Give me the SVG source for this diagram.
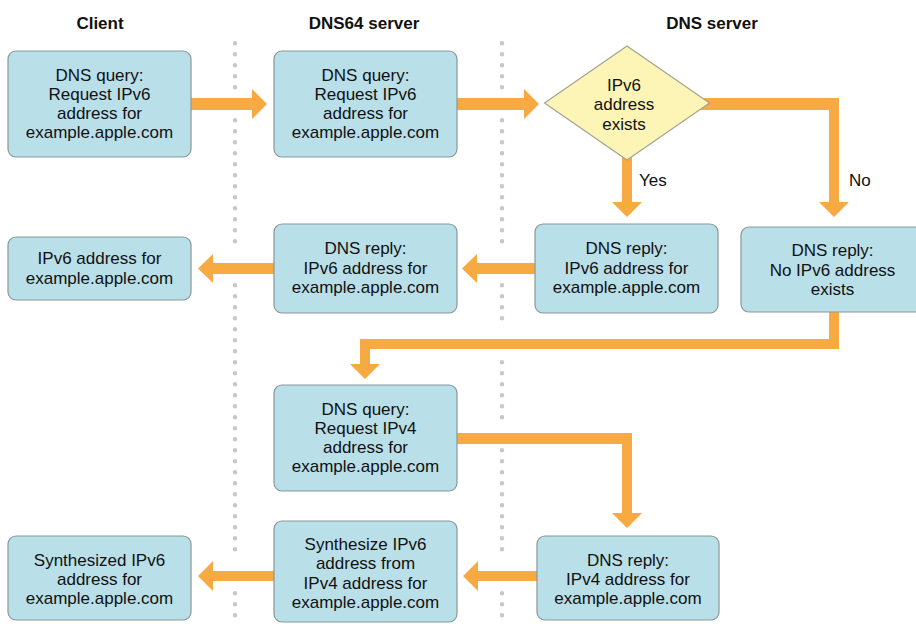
<svg xmlns="http://www.w3.org/2000/svg" width="916" height="624" viewBox="0 0 916 624">
<style>
.box{fill:#b9dfe9;stroke:#8a979b;stroke-width:1.2}
.dia{fill:#fcf5b6;stroke:#a3a391;stroke-width:1.2}
.arr{fill:#f8aa42;stroke:none}
.dots{stroke:#c8c8c8;stroke-width:4.5;stroke-linecap:round;stroke-dasharray:0 11;fill:none}
text{font-family:"Liberation Sans",Arial,Helvetica,sans-serif;font-size:17px;fill:#111;text-anchor:middle}
.hdr{font-weight:bold}
.lbl{text-anchor:start}
</style>
<rect width="916" height="624" fill="#ffffff"/>
<g id="lanes">
<path class="dots" d="M235 43.3V87.3M235 120.3V252.3M235 285.3V560.3M235 593.3V626.3"/>
<path class="dots" d="M502 43.3V87.3M502 120.3V252.3M502 285.3V329.3M502 362.3V428.3M502 450.3V560.3M502 593.3V626.3"/>
</g>
<g id="headers">
<text class="hdr" x="100" y="29">Client</text>
<text class="hdr" x="364" y="29">DNS64 server</text>
<text class="hdr" x="712" y="29">DNS server</text>
</g>
<g id="connectors">
<polygon class="arr" points="191,98 252,98 252,89 267,104 252,119 252,110 191,110"/>
<polygon class="arr" points="457,98 524,98 524,89 539,104 524,119 524,110 457,110"/>
<polygon class="arr" points="700,98 839,98 839,202 849,202 834,217 819,202 829,202 829,110 700,110"/>
<polygon class="arr" points="622,150 632,150 632,202 642,202 627,217 612,202 622,202"/>
<polygon class="arr" points="535,263 477,263 477,254 462,268.5 477,283 477,274 535,274"/>
<polygon class="arr" points="274,263 213,263 213,254 198,268.5 213,283 213,274 274,274"/>
<polygon class="arr" points="829,311 839,311 839,349 370,349 370,364 380,364 365,379 350,364 360,364 360,339 829,339"/>
<polygon class="arr" points="457,433 632,433 632,513 642,513 627,528 612,513 622,513 622,444 457,444"/>
<polygon class="arr" points="537,571 478,571 478,561 463,576 478,591 478,581 537,581"/>
<polygon class="arr" points="274,571 213,571 213,561 198,576 213,591 213,581 274,581"/>
<text class="lbl" x="639" y="186">Yes</text>
<text class="lbl" x="849" y="186">No</text>
</g>
<g id="n1">
<rect class="box" x="8" y="51" width="183" height="106" rx="8"/>
<text x="99.5" y="81">DNS query:</text>
<text x="99.5" y="100">Request IPv6</text>
<text x="99.5" y="119">address for</text>
<text x="99.5" y="138">example.apple.com</text>
</g>
<g id="n2">
<rect class="box" x="274" y="51" width="183" height="106" rx="8"/>
<text x="365.5" y="81">DNS query:</text>
<text x="365.5" y="100">Request IPv6</text>
<text x="365.5" y="119">address for</text>
<text x="365.5" y="138">example.apple.com</text>
</g>
<g id="n3">
<polygon class="dia" points="627,46 709.5,103 627,160 544.5,103"/>
<text x="624" y="91">IPv6</text>
<text x="624" y="110">address</text>
<text x="624" y="129.5">exists</text>
</g>
<g id="n4">
<rect class="box" x="535" y="224" width="183" height="89" rx="8"/>
<text x="626.5" y="254">DNS reply:</text>
<text x="626.5" y="273.5">IPv6 address for</text>
<text x="626.5" y="293">example.apple.com</text>
</g>
<g id="n5">
<rect class="box" x="741" y="227" width="183" height="85" rx="8"/>
<text x="832.5" y="256">DNS reply:</text>
<text x="832.5" y="275.5">No IPv6 address</text>
<text x="832.5" y="295">exists</text>
</g>
<g id="n6">
<rect class="box" x="274" y="224" width="183" height="89" rx="8"/>
<text x="365.5" y="254">DNS reply:</text>
<text x="365.5" y="273.5">IPv6 address for</text>
<text x="365.5" y="293">example.apple.com</text>
</g>
<g id="n7">
<rect class="box" x="8" y="237" width="183" height="63" rx="8"/>
<text x="99.5" y="264">IPv6 address for</text>
<text x="99.5" y="283.5">example.apple.com</text>
</g>
<g id="n8">
<rect class="box" x="274" y="385" width="183" height="106" rx="8"/>
<text x="365.5" y="415">DNS query:</text>
<text x="365.5" y="434">Request IPv4</text>
<text x="365.5" y="453">address for</text>
<text x="365.5" y="472">example.apple.com</text>
</g>
<g id="n9">
<rect class="box" x="537" y="536" width="182" height="84" rx="8"/>
<text x="628" y="566">DNS reply:</text>
<text x="628" y="585">IPv4 address for</text>
<text x="628" y="604">example.apple.com</text>
</g>
<g id="n10">
<rect class="box" x="274" y="521" width="183" height="101" rx="8"/>
<text x="365.5" y="550">Synthesize IPv6</text>
<text x="365.5" y="569">address from</text>
<text x="365.5" y="588.5">IPv4 address for</text>
<text x="365.5" y="607.5">example.apple.com</text>
</g>
<g id="n11">
<rect class="box" x="8" y="536" width="183" height="84" rx="8"/>
<text x="99.5" y="566">Synthesized IPv6</text>
<text x="99.5" y="585">address for</text>
<text x="99.5" y="604">example.apple.com</text>
</g>
</svg>
